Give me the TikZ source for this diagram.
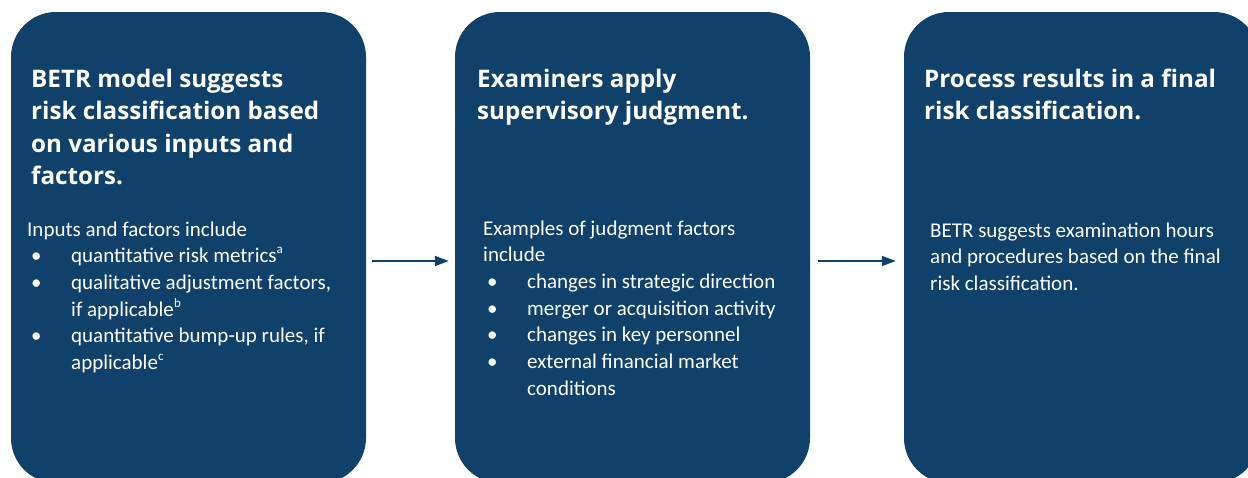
\documentclass[tikz,border=0pt]{standalone}
\usepackage{fontspec}
\setmainfont{Carlito}
\newfontfamily\headfont{Open Sans}
\usetikzlibrary{arrows.meta}
\definecolor{boxblue}{HTML}{10416A}

% bullet line, its continuation, and a small raised note mark
\newcommand{\bitem}[1]{\hspace*{4pt}\makebox[40pt][l]{\textbullet}#1}
\newcommand{\bcont}[1]{\hspace*{44pt}#1}
\newcommand{\notemark}[1]{\raisebox{0.42em}{\fontsize{13}{13}\selectfont #1}}

\begin{document}
\begin{tikzpicture}[x=1pt,y=-1pt,
  stagebox/.style={fill=boxblue, draw=none, rounded corners=45pt,
    minimum width=355pt, minimum height=471pt, inner sep=0pt},
  headtext/.style={anchor=base west, inner sep=0pt, align=left, text=white,
    font=\headfont\bfseries\fontsize{24.2}{32.5}\selectfont},
  bodytext/.style={anchor=base west, inner sep=0pt, align=left, text=white,
    font=\fontsize{21}{26.7}\selectfont},
  flow/.style={draw=boxblue, line width=2pt, -{Triangle[length=14pt,width=10pt]}}]
  \clip (0,0) rectangle (1248,477);
  \fill[white] (0,0) rectangle (1248,477);

  % the three stages
  \node[stagebox] (b1) at (188.5,247.5) {};
  \node[stagebox] (b2) at (632.5,247.5) {};
  \node[stagebox] (b3) at (1081.5,247.5) {};

  % headings (placed by the baseline of their last line)
  \node[headtext] (h1) at (31,184.5) {BETR model suggests\\risk classification based\\on various inputs and\\factors.};
  \node[headtext] (h2) at (477,119.5) {Examiners apply\\supervisory judgment.};
  \node[headtext] (h3) at (924,119.5) {Process results in a final\\risk classification.};

  % details (placed by the baseline of their last line)
  \node[bodytext] (d1) at (27,369.5) {Inputs and factors include\\
    \bitem{quantitative risk metrics\notemark{a}}\\
    \bitem{qualitative adjustment factors,}\\
    \bcont{if applicable\notemark{b}}\\
    \bitem{quantitative bump-up rules, if}\\
    \bcont{applicable\notemark{c}}};
  \node[bodytext] (d2) at (483,395.2) {Examples of judgment factors\\include\\
    \bitem{changes in strategic direction}\\
    \bitem{merger or acquisition activity}\\
    \bitem{changes in key personnel}\\
    \bitem{external financial market}\\
    \bcont{conditions}};
  \node[bodytext] (d3) at (930,290.4) {BETR suggests examination hours\\and procedures based on the final\\risk classification.};

  % flow between stages
  \draw[flow] ([shift={(6,13.5)}]b1.east) -- ([shift={(-6,13.5)}]b2.west);
  \draw[flow] ([shift={(8,13.5)}]b2.east) -- ([shift={(-8,13.5)}]b3.west);
\end{tikzpicture}
\end{document}
